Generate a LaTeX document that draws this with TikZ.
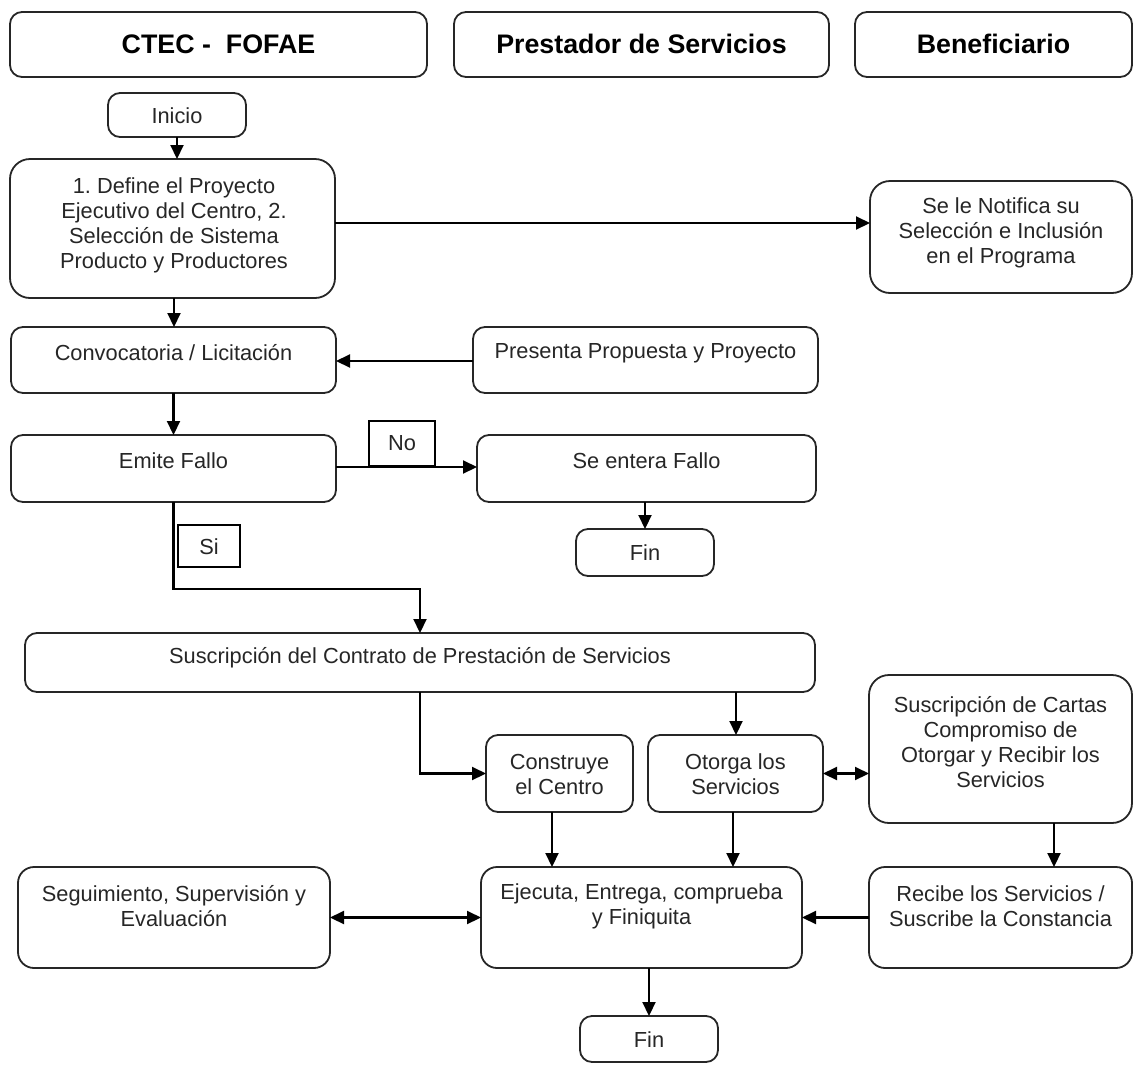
\documentclass[tikz,border=0pt]{standalone}
\usepackage{fontspec}
\setmainfont{Liberation Sans}
\usetikzlibrary{arrows.meta}
\begin{document}
\begin{tikzpicture}[x=1pt,y=-1pt,
 box/.style={draw=black!85, line width=1.8pt, rounded corners=12pt, anchor=north west, inner sep=0pt, outer sep=0pt},
 bigbox/.style={box, rounded corners=20pt},
 lbl/.style={draw=black, line width=2.4pt, anchor=north west, inner sep=0pt, outer sep=0pt},
 txt/.style={align=center, font=\fontsize{21.8}{25}\selectfont, text=black!85, inner sep=0pt},
 hdr/.style={font=\bfseries\fontsize{26.8}{30}\selectfont, inner sep=0pt},
 arr/.style={line width=2.1pt, -{Triangle[length=14pt,width=13pt]}},
 darr/.style={line width=2.1pt, {Triangle[length=14pt,width=13pt]}-{Triangle[length=14pt,width=13pt]}}]

\useasboundingbox (0,0) rectangle (1133,1066);

% headers
\node[box, minimum width=417pt, minimum height=65pt] (H1) at (10,12) {};
\node[box, minimum width=375pt, minimum height=65pt] (H2) at (454,12) {};
\node[box, minimum width=277pt, minimum height=65pt] (H3) at (855,12) {};
\node[hdr] (H1t) at (218.5,44) {CTEC -\ \ FOFAE};
\node[hdr] (H2t) at (641.5,44) {Prestador de Servicios};
\node[hdr] (H3t) at (993.5,44) {Beneficiario};

% boxes
\node[box, minimum width=138pt, minimum height=44pt] (Inicio) at (108,93) {};
\node[bigbox, minimum width=325pt, minimum height=139pt] (Define) at (10,159) {};
\node[bigbox, minimum width=262pt, minimum height=112pt] (Notifica) at (870,181) {};
\node[box, minimum width=325pt, minimum height=66pt] (Conv) at (11,327) {};
\node[box, minimum width=345pt, minimum height=66pt] (Pres) at (473,327) {};
\node[box, minimum width=325pt, minimum height=67pt] (Emite) at (11,435) {};
\node[box, minimum width=339pt, minimum height=67pt] (SeEnt) at (477,435) {};
\node[box, minimum width=138pt, minimum height=47pt] (Fin1) at (576,529) {};
\node[box, minimum width=790pt, minimum height=59pt] (Susc) at (25,633) {};
\node[box, minimum width=147pt, minimum height=77pt] (Constr) at (486,735) {};
\node[box, minimum width=175pt, minimum height=77pt] (Otorga) at (648,735) {};
\node[bigbox, minimum width=263pt, minimum height=148pt] (Cartas) at (869,675) {};
\node[box, rounded corners=16pt, minimum width=312pt, minimum height=101pt] (Segui) at (18,867) {};
\node[box, rounded corners=16pt, minimum width=321pt, minimum height=101pt] (Ejec) at (481,867) {};
\node[box, rounded corners=16pt, minimum width=263pt, minimum height=101pt] (Recibe) at (869,867) {};
\node[box, minimum width=138pt, minimum height=46pt] (Fin2) at (580,1016) {};

% texts
\node[txt] (Iniciot) at (177,116) {Inicio};
\node[txt] (Definet) at (174,225.5) {1.\ Define el Proyecto\\Ejecutivo del Centro, 2.\\Selección de Sistema\\Producto y Productores};
\node[txt] (Notificat) at (1001,233) {Se le Notifica su\\Selección e Inclusión\\en el Programa};
\node[txt] (Convt) at (173.5,353) {Convocatoria / Licitación};
\node[txt] (Prest) at (645.5,353) {Presenta Propuesta y Proyecto};
\node[txt] (Emitet) at (173.5,461) {Emite Fallo};
\node[txt] (SeEntt) at (646.5,461) {Se entera Fallo};
\node[txt] (Fin1t) at (645,553) {Fin};
\node[txt] (Susct) at (420,658) {Suscripción del Contrato de Prestación de Servicios};
\node[txt] (Constrt) at (559.5,774.5) {Construye\\el Centro};
\node[txt] (Otorgat) at (735.5,774.5) {Otorga los\\Servicios};
\node[txt] (Cartast) at (1000.5,742.5) {Suscripción de Cartas\\Compromiso de\\Otorgar y Recibir los\\Servicios};
\node[txt] (Seguit) at (174,906.5) {Seguimiento, Supervisión y\\Evaluación};
\node[txt] (Eject) at (641.5,906.5) {Ejecuta, Entrega, comprueba\\y Finiquita};
\node[txt] (Recibet) at (1000.5,906.5) {Recibe los Servicios /\\Suscribe la Constancia};
\node[txt] (Fin2t) at (649,1040) {Fin};

% connectors
\draw[arr] (Inicio.south) -- (Inicio.south |- Define.north);
\coordinate (c2) at ([yshift=5.5pt]Define.east);
\draw[arr] (c2) -- (c2 -| Notifica.west);
\coordinate (c3) at ([xshift=1.5pt]Define.south);
\draw[arr] (c3) -- (c3 |- Conv.north);
\coordinate (c4) at ([yshift=-1pt]Pres.west);
\draw[arr] (c4) -- (c4 -| Conv.east);
\draw[arr] (Conv.south) -- (Conv.south |- Emite.north);
\coordinate (c6) at ([yshift=1.5pt]Emite.east);
\draw[arr] (c6) -- (c6 -| SeEnt.west);
\coordinate (c7) at ([xshift=-1.5pt]SeEnt.south);
\draw[arr] (c7) -- (c7 |- Fin1.north);
\coordinate (k8) at (420,589);
\draw[arr] (Emite.south) |- (k8) -- (k8 |- Susc.north);
\coordinate (c9) at ([xshift=316pt]Susc.south);
\draw[arr] (c9) -- (c9 |- Otorga.north);
\draw[arr] (Susc.south) |- (Constr.west);
\draw[darr] (Otorga.east) -- (Otorga.east -| Cartas.west);
\coordinate (c12) at ([xshift=-7.5pt]Constr.south);
\draw[arr] (c12) -- (c12 |- Ejec.north);
\coordinate (c13) at ([xshift=-2.5pt]Otorga.south);
\draw[arr] (c13) -- (c13 |- Ejec.north);
\coordinate (c14) at ([xshift=53.5pt]Cartas.south);
\draw[arr] (c14) -- (c14 |- Recibe.north);
\draw[darr] (Segui.east) -- (Segui.east -| Ejec.west);
\draw[arr] (Recibe.west) -- (Recibe.west -| Ejec.east);
\coordinate (c17) at ([xshift=7.5pt]Ejec.south);
\draw[arr] (c17) -- (c17 |- Fin2.north);

% labels No / Si (drawn last, over the lines)
\node[lbl, fill=white, minimum width=66pt, minimum height=45pt] (No) at (369,421) {};
\node[txt] (Not) at (402,443) {No};
\node[lbl, fill=white, minimum width=62pt, minimum height=42pt] (Si) at (178,525) {};
\node[txt] (Sit) at (209,547) {Si};
\end{tikzpicture}
\end{document}
